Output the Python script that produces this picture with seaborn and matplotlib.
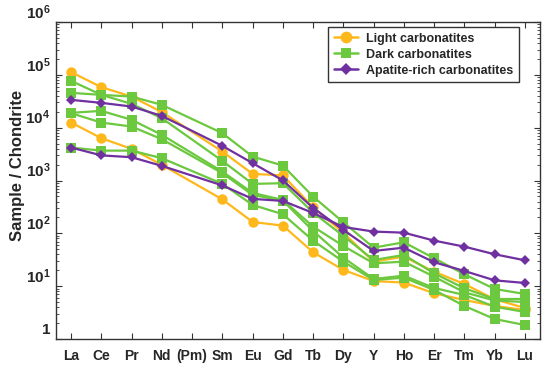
import numpy as np
import pandas as pd
import matplotlib
matplotlib.use("Agg")
import matplotlib.pyplot as plt
import matplotlib.transforms as mtransforms
from matplotlib.lines import Line2D
from matplotlib.ticker import FixedLocator, LogLocator, NullFormatter
import seaborn as sns

# REE elements, (Pm) has no data
ELEMENTS = ["La", "Ce", "Pr", "Nd", "(Pm)", "Sm", "Eu", "Gd", "Tb", "Dy",
            "Y", "Ho", "Er", "Tm", "Yb", "Lu"]
nan = np.nan

# chondrite-normalised values
light_1 = [112500, 58500, 38800, 19700, nan, 3530, 1334, 1250, 312, 102, 29.1, 36.2, 18.8, 11.0, 5.65, 3.87]
light_2 = [12500, 6320, 3970, 1975, nan, 439, 164, 140, 43.9, 20.3, 12.5, 11.7, 7.34, 5.48, 4.22, 3.54]

dark_1 = [45600, 41800, 38800, 27000, nan, 7870, 2840, 1915, 495, 162, 53.6, 67.8, 33.8, 16.8, 8.85, 7.12]
dark_2 = [76900, 41800, 28200, 15100, nan, 2350, 863, 889, 247, 89.3, 31.3, 39.0, 17.5, 9.12, 5.72, 5.72]
dark_3 = [19100, 20800, 14100, 7310, nan, 1475, 582, 429, 134, 57.7, 27.1, 29.1, 15.1, 7.66, 5.36, 5.02]
dark_4 = [18800, 12500, 10500, 6050, nan, 1375, 534, 416, 111, 34.7, 13.7, 15.8, 9.25, 6.81, 4.09, 3.25]
dark_5 = [4200, 3680, 3680, 2645, nan, 863, 345, 230, 72.8, 29.1, 13.1, 14.5, 8.47, 4.22, 2.39, 1.84]

apatite_1 = [33600, 29500, 25100, 16700, nan, 4520, 2130, 1005, 303, 116, 46.4, 53.6, 28.4, 19.4, 12.9, 11.5]
apatite_2 = [4200, 2990, 2760, 1890, nan, 808, 449, 411, 243, 132, 108, 103, 72.8, 56.0, 40.2, 30.9]

GROUPS = {
    "Light carbonatites": [light_1, light_2],
    "Dark carbonatites": [dark_1, dark_2, dark_3, dark_4, dark_5],
    "Apatite-rich carbonatites": [apatite_1, apatite_2],
}
STYLES = {
    "Light carbonatites": dict(color="#FFB81C", marker="o", markersize=7.5),
    "Dark carbonatites": dict(color="#6CC83E", marker="s", markersize=6.5),
    "Apatite-rich carbonatites": dict(color="#7030A0", marker="D", markersize=5),
}

rows = []
for group, samples in GROUPS.items():
    for k, vals in enumerate(samples):
        for i, v in enumerate(vals):
            rows.append({"group": group, "sample": f"{group}_{k}", "pos": i,
                         "element": ELEMENTS[i], "value": v})
df = pd.DataFrame(rows).dropna()

sns.set_style("ticks")
plt.rcParams["font.family"] = ["Liberation Sans", "DejaVu Sans"]
plt.rcParams["font.weight"] = "bold"
plt.rcParams["mathtext.fontset"] = "custom"
plt.rcParams["mathtext.rm"] = "Liberation Sans:bold"
plt.rcParams["mathtext.bf"] = "Liberation Sans:bold"

fig = plt.figure(figsize=(5.5, 3.65), dpi=100)
ax = fig.add_axes([0.1018, 0.0712, 0.880, 0.8685])

for group in GROUPS:
    st = STYLES[group]
    sns.lineplot(data=df[df["group"] == group], x="pos", y="value", units="sample",
                 estimator=None, sort=True, ax=ax, color=st["color"], lw=1.6,
                 marker=st["marker"], markersize=st["markersize"],
                 markeredgewidth=0, legend=False)

ax.set_yscale("log")
ax.set_ylim(1, 1e6)
ax.set_xlim(-0.5, len(ELEMENTS) - 0.5)

ax.set_xticks(range(len(ELEMENTS)))
ax.set_xticklabels(ELEMENTS, fontsize=10, fontweight="bold")
decades = [1, 10, 1e2, 1e3, 1e4, 1e5, 1e6]
ax.yaxis.set_major_locator(FixedLocator(decades))
ax.yaxis.set_minor_locator(LogLocator(base=10, subs=np.arange(2, 10), numticks=20))
ax.yaxis.set_minor_formatter(NullFormatter())
ax.set_yticklabels(["1"] + [rf"$\mathbf{{10^{{{k}}}}}$" for k in range(1, 7)], fontsize=11)

ax.tick_params(axis="both", which="both", direction="in", top=True, right=True,
               color="#333333")
ax.tick_params(axis="x", which="major", length=4, pad=7)
ax.tick_params(axis="y", which="major", length=4, pad=4)
ax.tick_params(axis="y", which="minor", length=2.5)

# labels sit a little above their decade tick
offset = mtransforms.ScaledTranslation(0, 0.11, fig.dpi_scale_trans)
for lab in ax.get_yticklabels():
    lab.set_transform(lab.get_transform() + offset)

for sp in ax.spines.values():
    sp.set_color("#333333")
    sp.set_linewidth(1)

ax.set_xlabel("")
ax.set_ylabel("Sample / Chondrite", fontsize=12, fontweight="bold")
ax.yaxis.set_label_coords(-0.064, 0.549)

handles = [Line2D([], [], color=STYLES[g]["color"], marker=STYLES[g]["marker"],
                  markersize=STYLES[g]["markersize"] + 1, markeredgewidth=0, lw=1.8, label=g)
           for g in GROUPS]
leg = ax.legend(handles=handles, loc="upper right", bbox_to_anchor=(0.957, 0.984),
                borderaxespad=0, fancybox=False, framealpha=1, edgecolor="#333333",
                prop={"weight": "bold", "size": 9}, handlelength=1.9,
                labelspacing=0.32, borderpad=0.45, handletextpad=0.7)
leg.get_frame().set_linewidth(1)

fig.savefig("out.png", dpi=100)
